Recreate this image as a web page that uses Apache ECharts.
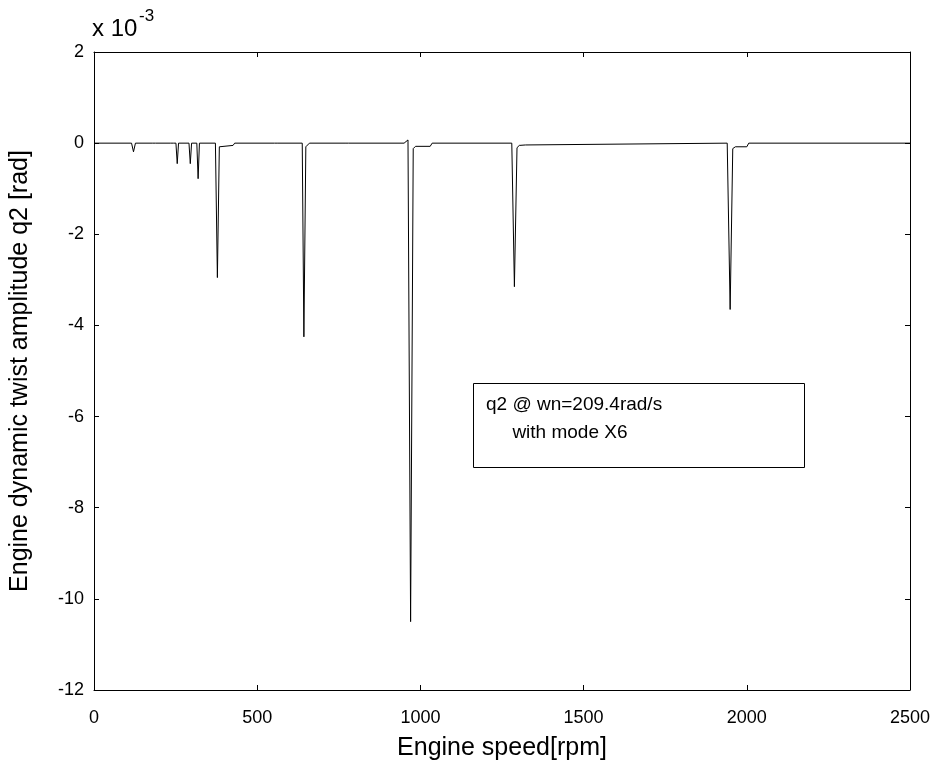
<!DOCTYPE html>
<html>
<head>
<meta charset="utf-8">
<script src="https://cdn.jsdelivr.net/npm/echarts@6/dist/echarts.min.js"></script>
<style>html,body{margin:0;padding:0;background:#fff}#c{width:943px;height:768px}</style>
</head>
<body>
<div id="c"></div>
<script>
// Engine speed [rpm]
const rpm = [0,115,121,127,180,184,188,235,239,243,251,255,259,291,295,299,315,319,323,
  372,376,378,384,390,426,429,431,553,557,561,638,641,643,649,655,660,772,776,780,
  950,962,968,970,978,985,1030,1036,1280,1285,1288,1296,1303,1322,1328,
  1940,1946,1949,1957,1965,2000,2006,2500];
// q2 amplitude (x 10^-3 rad)
const q2 = [0,0,-0.19,0,0,-0.03,0,0,-0.03,0,0,-0.45,0,0,-0.45,0,0,-0.78,0,
  0,0.03,-2.95,-0.08,-0.05,-0.05,-0.03,0,0,-0.04,0,0,0.02,-4.25,-0.08,-0.04,0,0,-0.04,0,
  0,0.07,0.05,-10.5,-0.12,-0.07,-0.07,0,0,0.04,-3.15,-0.1,-0.05,-0.04,0,
  0,0.03,-3.65,-0.12,-0.08,-0.08,0,0];
const xTicks = [0,500,1000,1500,2000,2500];
const yTicks = [-12,-10,-8,-6,-4,-2,0,2];
const xLabel = 'Engine speed[rpm]';
const yLabel = 'Engine dynamic twist amplitude q2 [rad]';
const noteLines = ['q2 @ wn=209.4rad/s', '     with mode X6'];

const font = 'Liberation Sans, Arial, sans-serif';
const chart = echarts.init(document.getElementById('c'));
const axLine = {show:true, onZero:false, lineStyle:{color:'#000', width:1}};
const tickIn = {show:true, inside:true, length:5, lineStyle:{color:'#000'}};
const plain = v => String(v);
chart.setOption({
  animation:false,
  backgroundColor:'#fff',
  grid:{left:93, top:52, width:817, height:638, containLabel:false},
  xAxis:[
    {type:'value', min:xTicks[0], max:xTicks[xTicks.length-1], interval:500, position:'bottom',
     axisLine:axLine, axisTick:tickIn, splitLine:{show:false},
     axisLabel:{color:'#000', fontFamily:font, fontSize:18, margin:19, formatter:plain},
     name:xLabel, nameLocation:'middle', nameGap:46,
     nameTextStyle:{color:'#000', fontFamily:font, fontSize:25}},
    {type:'value', min:xTicks[0], max:xTicks[xTicks.length-1], interval:500, position:'top',
     axisLine:axLine, axisTick:tickIn, axisLabel:{show:false}, splitLine:{show:false}}
  ],
  yAxis:[
    {type:'value', min:yTicks[0], max:yTicks[yTicks.length-1], interval:2, position:'left',
     axisLine:axLine, axisTick:tickIn, splitLine:{show:false},
     axisLabel:{color:'#000', fontFamily:font, fontSize:18, margin:10, formatter:plain},
     name:yLabel, nameLocation:'middle', nameGap:61, nameRotate:90,
     nameTextStyle:{color:'#000', fontFamily:font, fontSize:25}},
    {type:'value', min:yTicks[0], max:yTicks[yTicks.length-1], interval:2, position:'right',
     axisLine:axLine, axisTick:tickIn, axisLabel:{show:false}, splitLine:{show:false}}
  ],
  series:[{
    type:'line', xAxisIndex:0, yAxisIndex:0, showSymbol:false, symbol:'none',
    lineStyle:{color:'#000', width:1}, silent:true,
    data: rpm.map((r,i)=>[r,q2[i]])
  }],
  graphic:[
    {type:'text', left:92, top:17, style:{text:'x 10', font:'24px '+font, fill:'#000'}},
    {type:'text', left:139, top:8, style:{text:'-3', font:'17px '+font, fill:'#000'}},
    {type:'rect', shape:{x:473.5, y:383.5, width:331, height:84}, style:{fill:'#fff', stroke:'#000', lineWidth:1}},
    {type:'text', left:486, top:395, style:{text:noteLines[0], font:'19px '+font, fill:'#000'}},
    {type:'text', left:486, top:423, style:{text:noteLines[1], font:'19px '+font, fill:'#000', whiteSpace:'pre'}}
  ]
});
</script>
</body>
</html>
